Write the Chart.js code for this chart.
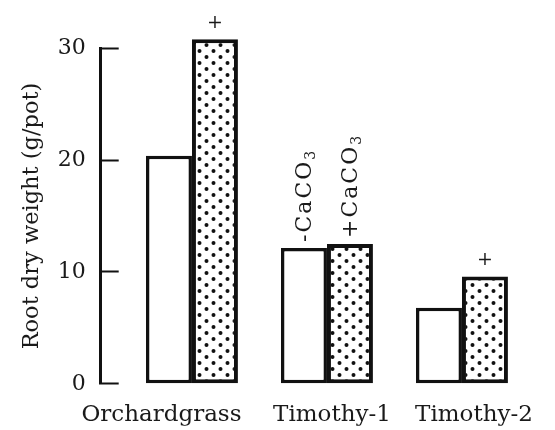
<!DOCTYPE html>
<html><head><meta charset="utf-8">
<script src="https://cdn.jsdelivr.net/npm/chart.js@4"></script>
<style>html,body{margin:0;padding:0;background:#fff}#wrap{width:555px;height:430px}</style>
</head><body><div id="wrap"><canvas id="c" width="555" height="430"></canvas></div>
<script>
// ---- data ----
const categories = ['Orchardgrass', 'Timothy-1', 'Timothy-2'];
const withoutCaCO3 = [20.4, 12.15, 6.8];
const withCaCO3 = [30.8, 12.5, 9.6];
const seriesNames = ['-CaCO3', '+CaCO3'];
const yTickValues = [0, 10, 20, 30];
const yTitle = 'Root dry weight (g/pot)';
// bar annotations
const markText = ['+', '-CaCO', '+CaCO', '+'];
const markSub = ['', '3', '3', ''];
const markSeries = [1, 0, 1, 1];
const markCategory = [0, 1, 1, 2];
const markVertical = [false, true, true, false];

const FONT = 'DejaVu Serif';
const INK = '#1a1a1a';
const canvas = document.getElementById('c');
const ctx = canvas.getContext('2d');

function dotPattern() {
  const p = document.createElement('canvas');
  p.width = 14; p.height = 12;
  const g = p.getContext('2d');
  g.fillStyle = '#fff'; g.fillRect(0, 0, 14, 12);
  g.fillStyle = '#111';
  [[3.5, 3], [10.5, 9]].forEach(([x, y]) => {
    g.beginPath(); g.arc(x, y, 2, 0, Math.PI * 2); g.fill();
  });
  return ctx.createPattern(p, 'repeat');
}

const annotate = {
  id: 'annotate',
  afterDatasetsDraw(chart) {
    const c = chart.ctx;
    markText.forEach((t, k) => {
      const bar = chart.getDatasetMeta(markSeries[k]).data[markCategory[k]];
      c.save();
      c.fillStyle = INK;
      if (markVertical[k]) {
        c.translate(bar.x + 1, bar.y - 6);
        c.rotate(-Math.PI / 2);
        c.font = '22px "' + FONT + '"';
        c.letterSpacing = '2px';
        c.textBaseline = 'middle';
        c.textAlign = 'left';
        c.fillText(t, 0, 0);
        const w = c.measureText(t).width;
        c.font = '14px "' + FONT + '"';
        c.fillText(markSub[k], w, 6);
      } else {
        c.font = '19px "' + FONT + '"';
        c.textAlign = 'center';
        c.textBaseline = 'middle';
        c.fillText(t, bar.x, bar.y - 16);
      }
      c.restore();
    });
  }
};

const pattern = dotPattern();

new Chart(ctx, {
  type: 'bar',
  data: {
    datasets: [
      {
        label: seriesNames[0],
        data: withoutCaCO3.map((v, i) => ({ x: i, y: v })),
        backgroundColor: '#fff',
        borderColor: '#111',
        borderWidth: 3.5,
        borderSkipped: false,
        clip: false
      },
      {
        label: seriesNames[1],
        data: withCaCO3.map((v, i) => ({ x: i, y: v })),
        backgroundColor: pattern,
        borderColor: '#111',
        borderWidth: 4,
        borderSkipped: false,
        clip: false
      }
    ]
  },
  options: {
    responsive: false,
    devicePixelRatio: 1,
    animation: false,
    categoryPercentage: 0.681,
    barPercentage: 1,
    layout: { padding: { left: 18.8, top: 48.3, right: 15, bottom: 0 } },
    plugins: { legend: { display: false }, tooltip: { enabled: false } },
    scales: {
      x: {
        type: 'linear',
        offset: false,
        min: -0.676,
        max: 2.578,
        grid: { display: false, drawTicks: false, offset: false },
        border: { display: false },
        afterBuildTicks: (axis) => {
          const shift = [-0.226, 0.037, 0.089];
          axis.ticks = categories.map((_, i) => ({ value: i + shift[i] }));
        },
        afterFit: (s) => { s.height = 42; s.paddingLeft = 0; s.paddingRight = 0; },
        ticks: {
          autoSkip: false,
          maxRotation: 0,
          padding: 17,
          color: INK,
          font: { family: FONT, size: 23 },
          callback: (v) => categories[Math.round(v)]
        }
      },
      y: {
        min: 0,
        max: 30,
        afterBuildTicks: (axis) => { axis.ticks = yTickValues.map(v => ({ value: v })); },
        afterFit: (s) => { s.width = 81.9; },
        grid: {
          drawOnChartArea: false,
          drawTicks: true,
          tickLength: -18,
          tickWidth: 2,
          tickColor: '#111'
        },
        border: { display: true, width: 3, color: '#111' },
        ticks: {
          padding: 33,
          color: INK,
          font: { family: FONT, size: 22 }
        },
        title: {
          display: true,
          text: yTitle,
          color: INK,
          font: { family: FONT, size: 22.5 },
          padding: { top: 0, bottom: 12.5 }
        }
      }
    }
  },
  plugins: [annotate]
});
</script>
</body></html>
